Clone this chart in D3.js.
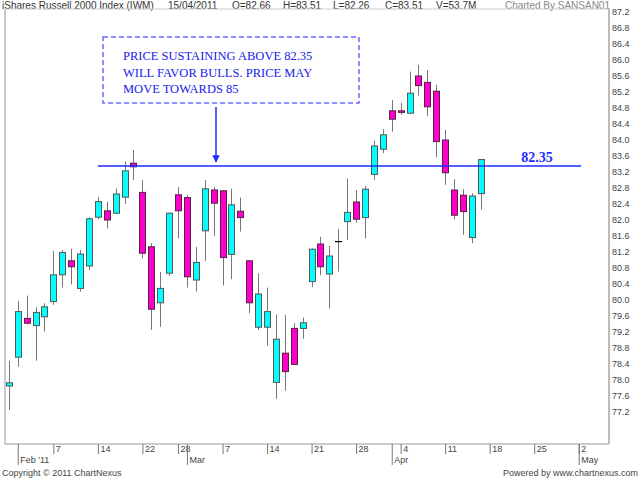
<!DOCTYPE html>
<html>
<head>
<meta charset="utf-8">
<script src="https://cdnjs.cloudflare.com/ajax/libs/d3/7.8.5/d3.min.js"></script>
<style>
  body { margin: 0; background: #fff; }
  svg { display: block; font-family: Arial, "Liberation Sans", sans-serif; }
</style>
</head>
<body>
<div id="chart"></div>
<script>
// IWM daily candles, 31 Jan 2011 - 15 Apr 2011
var dates = ["2011-01-31","2011-02-01","2011-02-02","2011-02-03","2011-02-04",
  "2011-02-07","2011-02-08","2011-02-09","2011-02-10","2011-02-11",
  "2011-02-14","2011-02-15","2011-02-16","2011-02-17","2011-02-18",
  "2011-02-22","2011-02-23","2011-02-24","2011-02-25","2011-02-28",
  "2011-03-01","2011-03-02","2011-03-03","2011-03-04",
  "2011-03-07","2011-03-08","2011-03-09","2011-03-10","2011-03-11",
  "2011-03-14","2011-03-15","2011-03-16","2011-03-17","2011-03-18",
  "2011-03-21","2011-03-22","2011-03-23","2011-03-24","2011-03-25",
  "2011-03-28","2011-03-29","2011-03-30","2011-03-31","2011-04-01",
  "2011-04-04","2011-04-05","2011-04-06","2011-04-07","2011-04-08",
  "2011-04-11","2011-04-12","2011-04-13","2011-04-14","2011-04-15"];

var open = [77.85,78.57,79.54,79.36,79.58, 79.96,80.63,80.98,80.29,80.85,
  82.07,82.23,82.17,82.57,83.42, 82.69,81.33,79.93,80.67,82.63,
  82.56,80.50,81.73,82.75, 82.73,81.14,82.22,80.98,79.32,
  79.32,77.94,78.67,79.29,79.29, 80.46,81.40,80.65,81.46,81.96,
  82.45,82.06,83.14,83.77,84.73, 84.73,84.67,85.60,85.44,85.22,
  84.00,82.75,82.62,81.56,82.66];
var high = [78.48,79.97,80.11,79.82,79.92, 81.23,81.25,81.28,81.25,82.07,
  82.57,82.46,82.79,83.46,83.75, 83.00,81.42,80.70,82.18,82.82,
  82.63,81.33,83.00,82.82, 82.75,82.78,82.56,81.00,80.67,
  80.31,79.64,79.63,79.42,79.56, 81.29,81.58,81.35,81.77,83.04,
  82.75,82.85,83.98,84.27,85.00, 84.93,85.71,85.88,85.75,85.38,
  84.25,83.02,82.77,82.67,83.51];
var low = [77.25,78.33,79.39,78.48,79.21, 79.88,80.31,80.39,80.21,80.75,
  82.02,81.79,82.15,82.40,83.00, 81.04,79.25,79.33,80.60,81.54,
  80.31,80.21,80.98,81.60, 80.36,80.52,81.71,79.67,79.25,
  78.86,77.53,77.73,78.39,79.03, 80.32,80.62,79.79,80.71,81.50,
  81.93,81.54,83.00,83.67,84.21, 84.63,84.65,85.11,84.60,83.57,
  82.88,82.02,81.63,81.42,82.26];
var close = [77.93,79.71,79.42,79.69,79.83, 80.63,81.19,80.83,81.15,82.03,
  82.46,82.00,82.65,83.23,83.33, 81.17,79.77,80.29,82.17,82.23,
  80.58,80.94,82.78,82.42, 81.06,82.38,82.06,79.93,80.15,
  79.71,79.02,78.21,78.39,79.43, 81.27,80.83,81.10,81.46,82.19,
  82.02,82.77,83.85,84.13,84.52, 84.69,85.17,85.36,84.83,83.96,
  83.18,82.12,82.21,82.60,83.51];

// axis labels: [trading-day index, label]
var dayTicks = [[5,"7"],[10,"14"],[15,"22"],[19,"28"],[24,"7"],[29,"14"],[34,"21"],
  [39,"28"],[44,"4"],[49,"11"],[54,"18"],[59,"25"],[64,"2"]];
var monthTicks = [[1,"Feb '11"],[20,"Mar"],[43,"Apr"],[64,"May"]];
var priceTicks = [77.2,77.6,78.0,78.4,78.8,79.2,79.6,80.0,80.4,80.8,81.2,81.6,82.0,
  82.4,82.8,83.2,83.6,84.0,84.4,84.8,85.2,85.6,86.0,86.4,86.8,87.2];

var headerItems = ["15/04/2011","O=82.66","H=83.51","L=82.26","C=83.51","V=53.7M"];
var levelValue = 83.35;
var levelLabel = "82.35";
var noteLines = ["PRICE SUSTAINING ABOVE 82.35","WILL FAVOR BULLS. PRICE MAY","MOVE TOWARDS 85"];

var W = 640, H = 480;
var plot = { left: 5, right: 609, top: 9, bottom: 444 };

var candles = dates.map(function(d, i) {
  return { date: d, i: i, o: open[i], h: high[i], l: low[i], c: close[i] };
});

var x = d3.scaleLinear().domain([-0.43, 67.4]).range([plot.left, plot.right]);
var y = d3.scaleLinear().domain([76.4, 87.275]).range([plot.bottom, plot.top]);

var svg = d3.select("#chart").append("svg")
  .attr("width", W).attr("height", H);

// header
var hdr = svg.append("g").attr("font-size", 10).attr("fill", "#333");
hdr.append("text").attr("x", 2).attr("y", 9).text("iShares Russell 2000 Index (IWM)");
var hdrX = [168, 232, 283, 333, 385, 436];
headerItems.forEach(function(t, k) {
  hdr.append("text").attr("x", hdrX[k]).attr("y", 9).text(t);
});
svg.append("text").attr("x", 610).attr("y", 9).attr("text-anchor", "end")
  .attr("font-size", 10).attr("fill", "#888").text("Charted By SANSAN01");

// frame
svg.append("path")
  .attr("d", "M" + plot.left + "," + plot.top + "V" + plot.bottom + "H" + plot.right)
  .attr("fill", "none").attr("stroke", "#999").attr("stroke-width", 1);
svg.append("line")
  .attr("x1", plot.left).attr("x2", plot.right).attr("y1", plot.top).attr("y2", plot.top)
  .attr("stroke", "#ccc");
svg.append("line")
  .attr("x1", plot.right).attr("x2", plot.right).attr("y1", plot.top).attr("y2", plot.bottom)
  .attr("stroke", "#bbb").attr("stroke-width", 2);

// price axis (right)
var yAxis = d3.axisRight(y).tickValues(priceTicks).tickSize(0).tickPadding(3)
  .tickFormat(d3.format(".1f"));
var yg = svg.append("g").attr("transform", "translate(" + plot.right + ",0)").call(yAxis);
yg.select(".domain").remove();
yg.selectAll("text").attr("font-size", 9).attr("fill", "#444")
  .attr("font-family", "Arial, 'Liberation Sans', sans-serif");

// time axis (bottom): short day ticks + long month ticks
var xDay = d3.axisBottom(x).tickValues(dayTicks.map(function(t){ return t[0]; }))
  .tickSize(10).tickPadding(0)
  .tickFormat(function(v){ return dayTicks.find(function(t){ return t[0] === v; })[1]; });
var xg = svg.append("g").attr("transform", "translate(0," + plot.bottom + ")").call(xDay);
xg.select(".domain").remove();
xg.selectAll("line").attr("stroke", "#777");
xg.selectAll("text").attr("text-anchor", "start").attr("dx", 2).attr("y", 2)
  .attr("font-size", 9).attr("fill", "#444").attr("font-family", "Arial, 'Liberation Sans', sans-serif");

var xMonth = d3.axisBottom(x).tickValues(monthTicks.map(function(t){ return t[0]; }))
  .tickSize(21).tickPadding(0)
  .tickFormat(function(v){ return monthTicks.find(function(t){ return t[0] === v; })[1]; });
var mg = svg.append("g").attr("transform", "translate(0," + plot.bottom + ")").call(xMonth);
mg.select(".domain").remove();
mg.selectAll("line").attr("stroke", "#777");
mg.selectAll("text").attr("text-anchor", "start").attr("dx", 2).attr("y", 13)
  .attr("font-size", 9).attr("fill", "#444").attr("font-family", "Arial, 'Liberation Sans', sans-serif");

// candles
var bodyW = 6;
var cg = svg.append("g");
var candle = cg.selectAll("g.candle").data(candles).enter().append("g").attr("class", "candle");
candle.append("line")
  .attr("x1", function(d){ return Math.round(x(d.i)) + 0.5; })
  .attr("x2", function(d){ return Math.round(x(d.i)) + 0.5; })
  .attr("y1", function(d){ return y(d.h); })
  .attr("y2", function(d){ return y(d.l); })
  .attr("stroke", "#777").attr("stroke-width", 1);
candle.filter(function(d){ return d.o !== d.c; }).append("rect")
  .attr("x", function(d){ return Math.round(x(d.i)) + 0.5 - bodyW / 2; })
  .attr("width", bodyW)
  .attr("y", function(d){ return y(Math.max(d.o, d.c)); })
  .attr("height", function(d){ return Math.max(1, Math.abs(y(d.o) - y(d.c))); })
  .attr("fill", function(d){ return d.c > d.o ? "#00ffff" : "#ff00cc"; })
  .attr("stroke", function(d){ return d.c > d.o ? "#555" : "#552244"; })
  .attr("stroke-width", 1);
candle.filter(function(d){ return d.o === d.c; }).append("line")
  .attr("x1", function(d){ return Math.round(x(d.i)) + 0.5 - bodyW / 2 - 0.5; })
  .attr("x2", function(d){ return Math.round(x(d.i)) + 0.5 + bodyW / 2 + 0.5; })
  .attr("y1", function(d){ return y(d.c); })
  .attr("y2", function(d){ return y(d.c); })
  .attr("stroke", "#000").attr("stroke-width", 1.2);

// 82.35 level line and its label
var blue = "#1f2bff";
svg.append("line")
  .attr("x1", 98).attr("x2", 581)
  .attr("y1", y(levelValue)).attr("y2", y(levelValue))
  .attr("stroke", blue).attr("stroke-width", 1.5);
svg.append("text")
  .attr("x", 537).attr("y", y(levelValue) - 4).attr("text-anchor", "middle")
  .attr("font-family", "'Liberation Serif', 'Times New Roman', serif")
  .attr("font-weight", "bold").attr("font-size", 14).attr("fill", blue)
  .text(levelLabel);

// note box with arrow
svg.append("rect")
  .attr("x", 103).attr("y", 37).attr("width", 256).attr("height", 66)
  .attr("fill", "none").attr("stroke", "#6b6bff").attr("stroke-width", 1.5)
  .attr("stroke-dasharray", "5,3");
svg.append("g")
  .attr("font-family", "'Liberation Serif', 'Times New Roman', serif")
  .attr("font-size", 12.5).attr("fill", "#2020e8")
  .selectAll("text").data(noteLines).enter().append("text")
  .attr("x", 123).attr("y", function(d, k){ return 60 + k * 16.5; })
  .text(function(d){ return d; });

svg.append("defs").append("marker")
  .attr("id", "arrow").attr("viewBox", "0 0 10 10").attr("refX", 9).attr("refY", 5)
  .attr("markerWidth", 5).attr("markerHeight", 5).attr("orient", "auto")
  .append("path").attr("d", "M0,0L10,5L0,10z").attr("fill", blue);
svg.append("line")
  .attr("x1", 216).attr("x2", 216).attr("y1", 107).attr("y2", y(levelValue) - 4)
  .attr("stroke", blue).attr("stroke-width", 1.5).attr("marker-end", "url(#arrow)");

// footer
svg.append("text").attr("x", 2).attr("y", 476).attr("font-size", 9).attr("fill", "#444")
  .text("Copyright \u00a9 2011 ChartNexus");
svg.append("text").attr("x", 638).attr("y", 476).attr("text-anchor", "end")
  .attr("font-size", 9).attr("fill", "#444").text("Powered by www.chartnexus.com");
</script>
</body>
</html>
